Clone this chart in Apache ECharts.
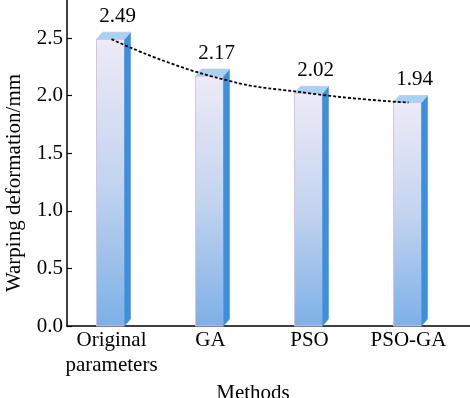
<!DOCTYPE html>
<html>
<head>
<meta charset="utf-8">
<script src="https://cdn.jsdelivr.net/npm/echarts@6/dist/echarts.min.js"></script>
<style>
  html, body { margin: 0; padding: 0; background: #fff; }
  #chart { width: 470px; height: 398px; }
</style>
</head>
<body>
<div id="chart"></div>
<script>
  const methods = ['Original\nparameters', 'GA', 'PSO', 'PSO-GA'];
  const warping = [2.49, 2.17, 2.02, 1.94];
  const yMax = 2.83;

  const font = 'Liberation Serif';
  const barW = 28;
  const depthX = 6;
  const depthY = 7;

  function renderBar(params, api) {
    const idx = api.value(0);
    const val = api.value(1);
    const top = api.coord([idx, val]);
    const base = api.coord([idx, 0]);
    const x0 = top[0] - 1 - barW / 2;
    const x1 = x0 + barW;
    const yt = top[1];
    const yb = base[1];
    return {
      type: 'group',
      children: [
        {
          type: 'rect',
          shape: { x: x0, y: yt, width: barW, height: yb - yt },
          style: {
            fill: new echarts.graphic.LinearGradient(0, 0, 0, 1, [
              { offset: 0, color: '#eeeaf6' },
              { offset: 0.5, color: '#c3d4ef' },
              { offset: 1, color: '#7db0e6' }
            ]),
            stroke: '#d6c2e2',
            lineWidth: 1
          }
        },
        {
          type: 'polygon',
          shape: { points: [[x1, yt], [x1 + depthX, yt - depthY], [x1 + depthX, yb - depthY], [x1, yb]] },
          style: { fill: '#3b8fdd', stroke: '#3b8fdd', lineWidth: 0.5 }
        },
        {
          type: 'polygon',
          shape: { points: [[x0, yt], [x0 + depthX, yt - depthY], [x1 + depthX, yt - depthY], [x1, yt]] },
          style: { fill: '#a9d1f2', stroke: '#c6c6ee', lineWidth: 0.8 }
        },
        {
          type: 'text',
          style: {
            text: val.toFixed(2),
            x: top[0] + 6,
            y: yt - 23,
            align: 'center',
            verticalAlign: 'middle',
            fontFamily: font,
            fontSize: 21,
            fill: '#000'
          }
        }
      ]
    };
  }

  const chart = echarts.init(document.getElementById('chart'));
  const option = {
    animation: false,
    grid: [
      { left: 67, right: 0, top: 0, bottom: 72, outerBoundsMode: 'none', containLabel: false },
      { left: 62, right: 12, top: 0, bottom: 72, outerBoundsMode: 'none', containLabel: false }
    ],
    xAxis: [
      {
        gridIndex: 0,
        type: 'value',
        min: 0,
        max: 1,
        axisLine: { show: true, onZero: false, lineStyle: { color: '#000', width: 1.5 } },
        axisTick: { show: false },
        axisLabel: { show: false },
        splitLine: { show: false }
      },
      {
        gridIndex: 1,
        type: 'category',
        data: methods,
        axisLine: { show: false },
        axisTick: { show: true, inside: true, length: 5, alignWithLabel: true, lineStyle: { color: '#000', width: 1.2 } },
        axisLabel: { margin: 2, fontFamily: font, fontSize: 21, lineHeight: 25, color: '#000', interval: 0 },
        name: 'Methods',
        nameLocation: 'middle',
        nameGap: 52,
        nameTextStyle: { fontFamily: font, fontSize: 21, color: '#000', padding: [0, 14, 0, 0] }
      }
    ],
    yAxis: [
      {
        gridIndex: 0,
        type: 'value',
        min: 0,
        max: yMax,
        interval: 0.5,
        axisLine: { show: true, onZero: false, lineStyle: { color: '#000', width: 1.5 } },
        axisTick: { show: true, inside: true, length: 5, lineStyle: { color: '#000', width: 1.2 } },
        axisLabel: {
          margin: 4,
          showMaxLabel: false,
          fontFamily: font,
          fontSize: 21,
          color: '#000',
          formatter: (v) => v.toFixed(1)
        },
        splitLine: { show: false },
        name: 'Warping deformation/mm',
        nameLocation: 'middle',
        nameGap: 42,
        nameTextStyle: { fontFamily: font, fontSize: 21, color: '#000', padding: [0, 40, 0, 0] }
      },
      {
        gridIndex: 1,
        type: 'value',
        min: 0,
        max: yMax,
        show: false
      }
    ],
    series: [
      {
        type: 'custom',
        xAxisIndex: 1,
        yAxisIndex: 1,
        renderItem: renderBar,
        encode: { x: 0, y: 1 },
        data: warping.map((v, i) => [i, v]),
        z: 2
      },
      {
        type: 'line',
        xAxisIndex: 1,
        yAxisIndex: 1,
        data: warping,
        smooth: true,
        showSymbol: false,
        symbol: 'none',
        lineStyle: { color: '#000', width: 1.8, type: [3, 2] },
        z: 5
      }
    ]
  };
  chart.setOption(option);
</script>
</body>
</html>
